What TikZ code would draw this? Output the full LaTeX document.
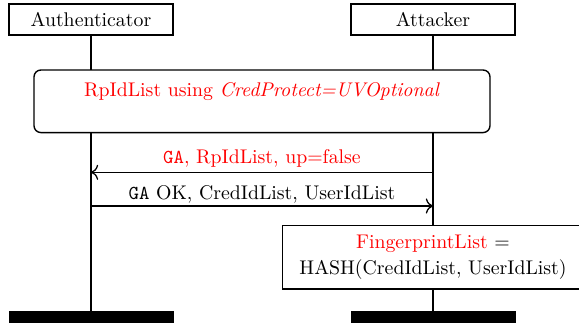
\documentclass[tikz,border=0pt]{standalone}
\usetikzlibrary{arrows.meta}
\begin{document}
\begin{tikzpicture}[x=0.50505pt,y=-0.50505pt,
  actor/.style={draw, line width=0.7pt, minimum width=82.8pt, minimum height=15.7pt, inner sep=0pt, fill=white},
  endbar/.style={fill=black, minimum width=83.3pt, minimum height=7pt, inner sep=0pt},
  life/.style={line width=0.7pt},
  msg/.style={line width=0.65pt, -{To[scale=1.2]}},
  roundbox/.style={draw, line width=0.7pt, rounded corners=3.5pt, fill=white, minimum width=230.3pt, minimum height=31.6pt, inner sep=0pt},
  calcbox/.style={draw, line width=0.7pt, fill=white, minimum width=152.2pt, minimum height=32pt, inner sep=0pt, align=center},
  lbl/.style={anchor=base, inner sep=0pt}]
\useasboundingbox (0,0) rectangle (579,323);
% actors
\node[actor] (auth) at (91,19.5) {Authenticator};
\node[actor] (att) at (433,19.5) {Attacker};
\node[endbar] (authend) at (91.5,318) {};
\node[endbar] (attend) at (433.5,318) {};
% lifelines
\draw[life] (auth.south) -- (auth.south |- authend.north);
\draw[life] (att.south) -- (att.south |- attend.north);
% shared box
\node[roundbox] (setup) at (262,101.3) {};
\node[lbl] (setuptext) at (262,96.7) {\color{red}RpIdList using \textit{CredProtect=UVOptional}};
% messages
\coordinate (m1s) at (433,172.3);
\coordinate (m1e) at (91,172.3);
\coordinate (m2s) at (91,206);
\coordinate (m2e) at (433,206);
\draw[msg] (m1s) -- (m1e);
\draw[msg] (m2s) -- (m2e);
\node[lbl] (m1lbl) at (262,164) {\color{red}\texttt{GA}, RpIdList, up=false};
\node[lbl] (m2lbl) at (262,199.3) {\texttt{GA} OK, CredIdList, UserIdList};
% computation box
\node[calcbox] (calc) at (433,257.3) {\textcolor{red}{FingerprintList} =\\[1.4pt] HASH(CredIdList, UserIdList)};
\end{tikzpicture}
\end{document}
